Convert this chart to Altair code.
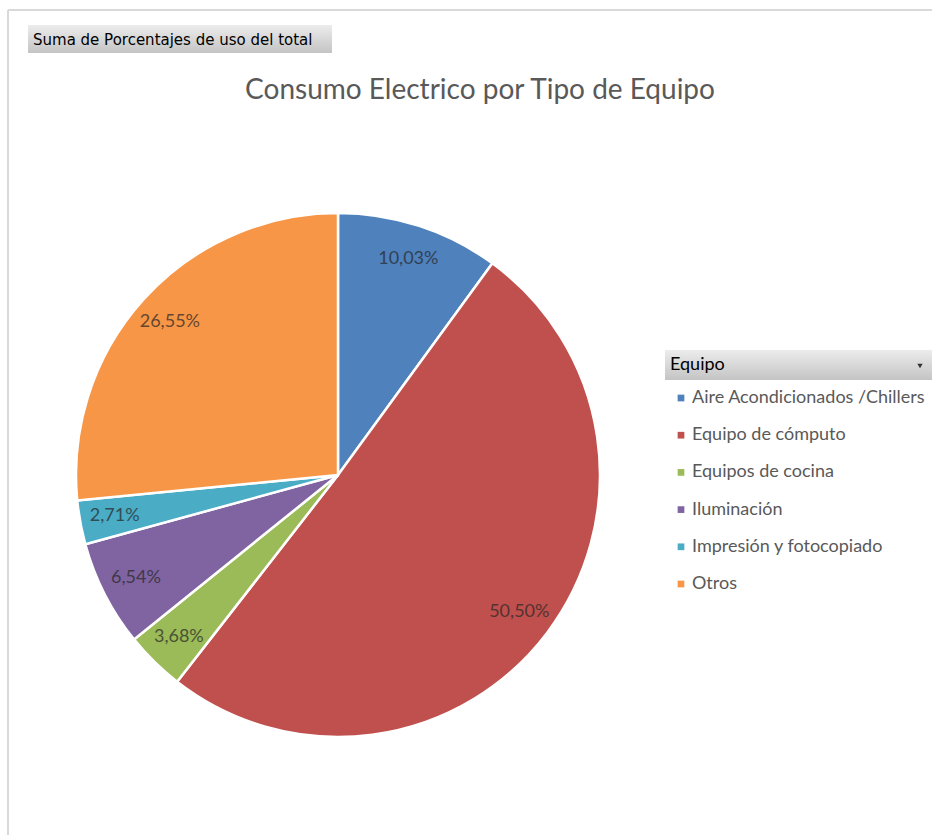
import altair as alt
import pandas as pd

categories = ["Aire Acondicionados /Chillers", "Equipo de cómputo", "Equipos de cocina",
              "Iluminación", "Impresión y fotocopiado", "Otros"]
values = [10.03, 50.50, 3.68, 6.54, 2.71, 26.55]
colors = ["#4F81BD", "#C0504D", "#9BBB59", "#8064A2", "#4BACC6", "#F79646"]
chart_title = "Consumo Electrico por Tipo de Equipo"
field_button = "Suma de Porcentajes de uso del total"
legend_title = "Equipo"

df = pd.DataFrame({
    "Equipo": categories,
    "valor": values,
    "orden": list(range(len(categories))),
    "etiqueta": [f"{v:.2f}%".replace(".", ",") for v in values],
})

CX, CY, R = 338, 475, 262
one = pd.DataFrame({"t": [0]})

frame_left = alt.Chart(one).mark_rule(color="#d9d9d9", strokeWidth=2).encode(
    x=alt.value(8), y=alt.value(10), y2=alt.value(835))
frame_top = alt.Chart(one).mark_rule(color="#d9d9d9", strokeWidth=2).encode(
    x=alt.value(8), x2=alt.value(932), y=alt.value(10))

grad = alt.LinearGradient(gradient="linear", x1=0, y1=0, x2=0, y2=1,
                          stops=[alt.GradientStop(color="#ececec", offset=0),
                                 alt.GradientStop(color="#c4c4c4", offset=1)])

btn_rect = alt.Chart(one).mark_rect(color=grad).encode(
    x=alt.value(28), x2=alt.value(332), y=alt.value(25), y2=alt.value(53))
btn_text = alt.Chart(pd.DataFrame({"t": [field_button]})).mark_text(
    align="left", baseline="middle", fontSize=15, font="DejaVu Sans", color="#000000"
).encode(text="t:N", x=alt.value(33), y=alt.value(40))

leg_rect = alt.Chart(one).mark_rect(color=grad).encode(
    x=alt.value(665), x2=alt.value(932), y=alt.value(350), y2=alt.value(380))
leg_text = alt.Chart(pd.DataFrame({"t": [legend_title]})).mark_text(
    align="left", baseline="middle", fontSize=18, font="Lato", color="#000000"
).encode(text="t:N", x=alt.value(670), y=alt.value(365))
leg_arrow = alt.Chart(one).mark_point(shape="triangle-down", filled=True, size=28,
                                       color="#333333", opacity=1).encode(
    x=alt.value(920), y=alt.value(366))

title_text = alt.Chart(pd.DataFrame({"t": [chart_title]})).mark_text(
    align="center", baseline="middle", fontSize=28, font="Lato", color="#595959"
).encode(text="t:N", x=alt.value(480), y=alt.value(91))

base = alt.Chart(df).encode(
    theta=alt.Theta("valor:Q", stack=True),
    order=alt.Order("orden:Q", sort="ascending"),
)

pie = base.mark_arc(outerRadius=R, stroke="white", strokeWidth=2.5).encode(
    color=alt.Color("Equipo:N", scale=alt.Scale(domain=categories, range=colors),
                    sort=categories,
                    legend=alt.Legend(title=None, orient="none", legendX=672, legendY=389,
                                      symbolType="square", symbolSize=45,
                                      labelFontSize=18, labelFont="Lato", labelColor="#595959",
                                      rowPadding=19.2, labelOffset=2, padding=0,
                                      symbolStrokeWidth=0, labelLimit=400)),
    x=alt.value(CX), y=alt.value(CY),
)

labels = base.mark_text(radius=227, fontSize=18, font="Lato", color="#262626",
                        opacity=0.7).encode(
    text="etiqueta:N", x=alt.value(CX), y=alt.value(CY),
)

chart = alt.layer(frame_left, frame_top, btn_rect, btn_text, leg_rect, leg_text, leg_arrow,
                  title_text, pie, labels).properties(
    width=932, height=835, autosize=alt.AutoSizeParams(type="none"), padding=0,
    background="white"
).configure_view(stroke=None)

chart.save("out.html", embed_options={"renderer": "svg", "actions": False})
